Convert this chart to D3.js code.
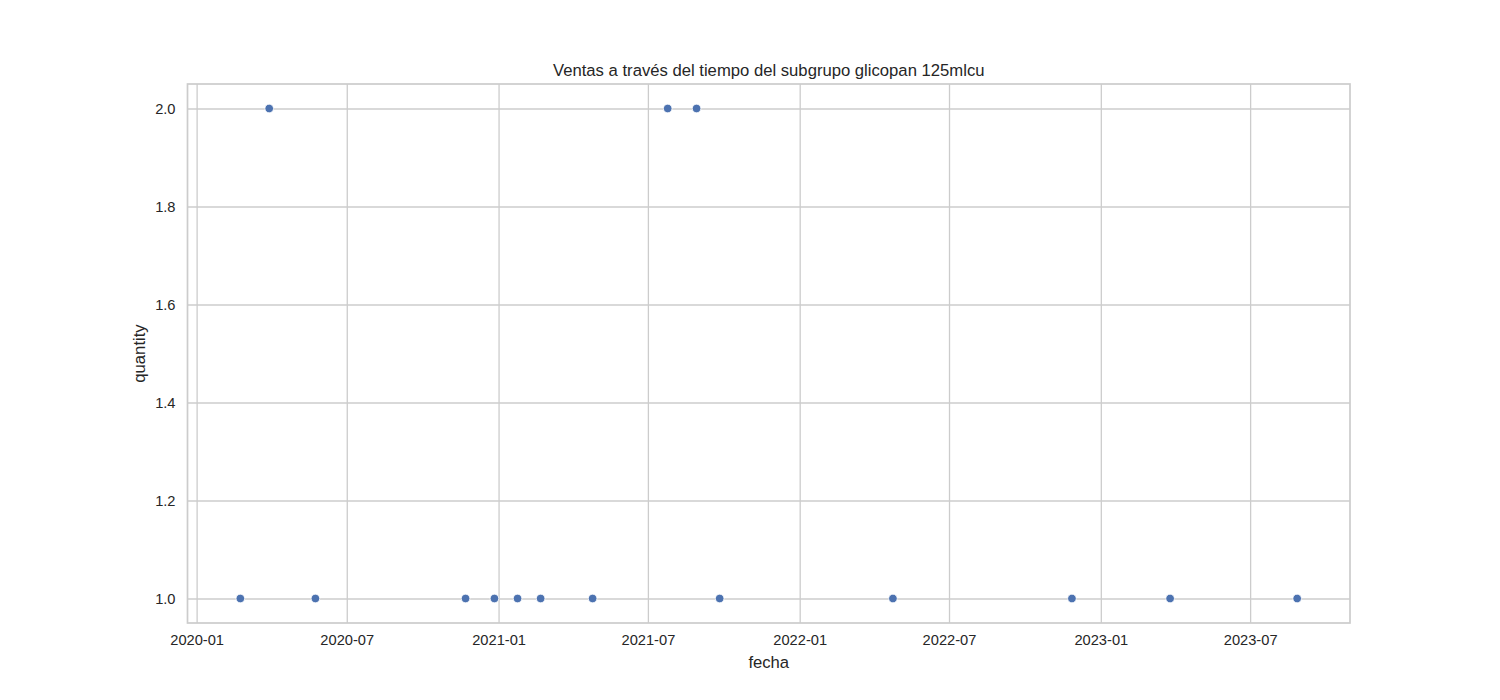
<!DOCTYPE html>
<html>
<head>
<meta charset="utf-8">
<script src="https://cdn.jsdelivr.net/npm/d3@7"></script>
<style>
  body { margin: 0; background: #fff; }
  text { font-family: "Liberation Sans", Arial, sans-serif; fill: #262626; }
</style>
</head>
<body>
<script>
// weekly totals (week ending Sunday)
const fechas = ["2020-02-23", "2020-03-29", "2020-05-24", "2020-11-22", "2020-12-27",
  "2021-01-24", "2021-02-21", "2021-04-25", "2021-07-25", "2021-08-29", "2021-09-26",
  "2022-04-24", "2022-11-27", "2023-03-26", "2023-08-27"];
const quantity = [1, 2, 1, 1, 1, 1, 1, 1, 2, 2, 1, 1, 1, 1, 1];
const yTicks = [1.0, 1.2, 1.4, 1.6, 1.8, 2.0];
const xTicks = ["2020-01-01", "2020-07-01", "2021-01-01", "2021-07-01", "2022-01-01",
  "2022-07-01", "2023-01-01", "2023-07-01"];

const width = 1500, height = 700;
const margin = {top: 84, right: 150, bottom: 77, left: 187.5};
const parse = d3.utcParse("%Y-%m-%d");

const data = fechas.map((f, i) => ({fecha: parse(f), quantity: quantity[i]}));

const svg = d3.select("body").append("svg")
  .attr("width", width)
  .attr("height", height);

// matplotlib style 5% margins
const xExt = d3.extent(data, d => d.fecha);
const xPad = (xExt[1] - xExt[0]) * 0.05;
const x = d3.scaleUtc()
  .domain([new Date(+xExt[0] - xPad), new Date(+xExt[1] + xPad)])
  .range([margin.left, width - margin.right]);

const yExt = d3.extent(data, d => d.quantity);
const yPad = (yExt[1] - yExt[0]) * 0.05;
const y = d3.scaleLinear()
  .domain([yExt[0] - yPad, yExt[1] + yPad])
  .range([height - margin.bottom, margin.top]);

// grid
svg.append("g")
  .attr("transform", `translate(0,${height - margin.bottom})`)
  .call(d3.axisBottom(x).tickValues(xTicks.map(parse)).tickSize(-(height - margin.top - margin.bottom)).tickFormat(d3.utcFormat("%Y-%m")).tickPadding(12))
  .call(g => g.select(".domain").remove())
  .call(g => g.selectAll(".tick line").attr("stroke", "#cccccc").attr("stroke-width", 1.3))
  .call(g => g.selectAll(".tick text").attr("font-size", "14.67px").attr("fill", "#262626"));

svg.append("g")
  .attr("transform", `translate(${margin.left},0)`)
  .call(d3.axisLeft(y).tickValues(yTicks).tickSize(-(width - margin.left - margin.right)).tickFormat(d3.format(".1f")).tickPadding(12))
  .call(g => g.select(".domain").remove())
  .call(g => g.selectAll(".tick line").attr("stroke", "#cccccc").attr("stroke-width", 1.3))
  .call(g => g.selectAll(".tick text").attr("font-size", "14.67px").attr("fill", "#262626"));

// spines
svg.append("rect")
  .attr("x", margin.left)
  .attr("y", margin.top)
  .attr("width", width - margin.left - margin.right)
  .attr("height", height - margin.top - margin.bottom)
  .attr("fill", "none")
  .attr("stroke", "#cccccc")
  .attr("stroke-width", 1.7);

// points
svg.append("g")
  .selectAll("circle")
  .data(data)
  .join("circle")
  .attr("cx", d => x(d.fecha))
  .attr("cy", d => y(d.quantity))
  .attr("r", 4.3)
  .attr("fill", "#4c72b0")
  .attr("stroke", "#fff")
  .attr("stroke-width", 0.8);

// labels
svg.append("text")
  .attr("x", (margin.left + width - margin.right) / 2)
  .attr("y", margin.top - 8)
  .attr("text-anchor", "middle")
  .attr("font-size", "16.67px")
  .text("Ventas a través del tiempo del subgrupo glicopan 125mlcu");

svg.append("text")
  .attr("x", (margin.left + width - margin.right) / 2)
  .attr("y", 668)
  .attr("text-anchor", "middle")
  .attr("font-size", "16.67px")
  .text("fecha");

svg.append("text")
  .attr("transform", `translate(145,${(margin.top + height - margin.bottom) / 2}) rotate(-90)`)
  .attr("text-anchor", "middle")
  .attr("font-size", "16.67px")
  .text("quantity");
</script>
</body>
</html>
